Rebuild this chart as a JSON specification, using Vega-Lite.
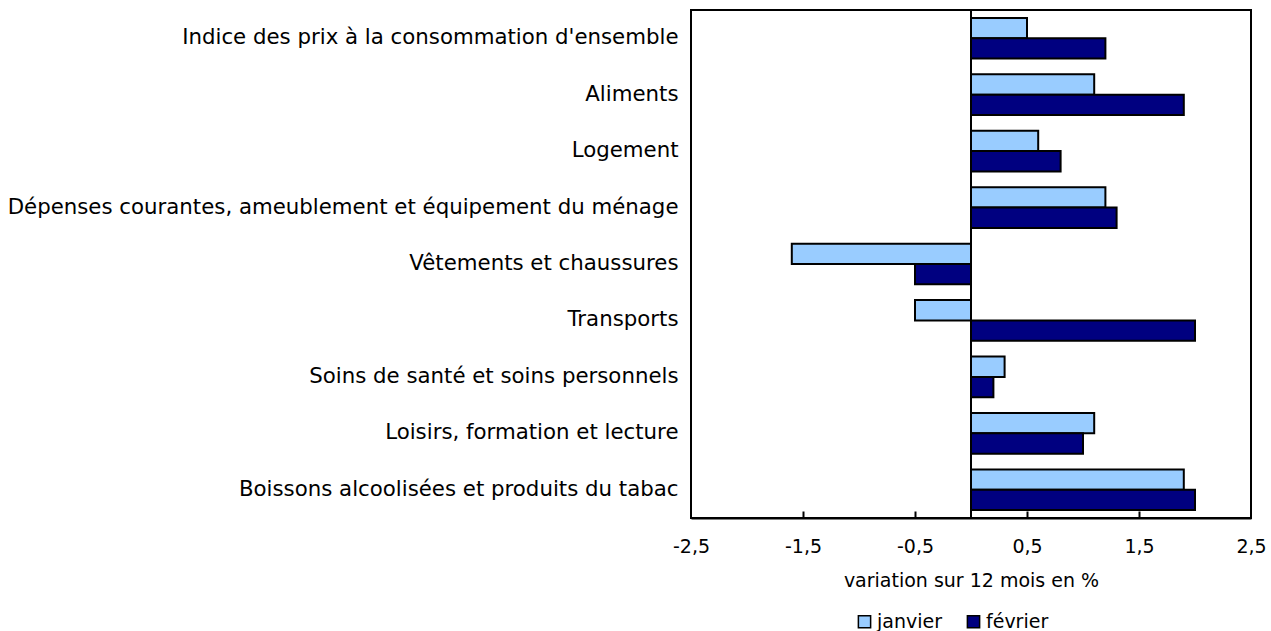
{
  "$schema": "https://vega.github.io/schema/vega-lite/v6.json",
  "autosize": {"type": "none"},
  "padding": {"left": 691, "top": 10, "right": 20, "bottom": 113},
  "width": 560,
  "height": 508,
  "config": {
    "font": "DejaVu Sans",
    "view": {"stroke": "black", "strokeWidth": 2},
    "axis": {"grid": false, "labelColor": "black", "titleColor": "black", "labelFontWeight": "normal", "titleFontWeight": "normal"}
  },
  "resolve": {"axis": {"x": "independent"}},
  "data": {
    "values": [
      {"cat": "Indice des prix à la consommation d'ensemble", "mois": "janvier", "v": 0.5},
      {"cat": "Indice des prix à la consommation d'ensemble", "mois": "février", "v": 1.2},
      {"cat": "Aliments", "mois": "janvier", "v": 1.1},
      {"cat": "Aliments", "mois": "février", "v": 1.9},
      {"cat": "Logement", "mois": "janvier", "v": 0.6},
      {"cat": "Logement", "mois": "février", "v": 0.8},
      {"cat": "Dépenses courantes, ameublement et équipement du ménage", "mois": "janvier", "v": 1.2},
      {"cat": "Dépenses courantes, ameublement et équipement du ménage", "mois": "février", "v": 1.3},
      {"cat": "Vêtements et chaussures", "mois": "janvier", "v": -1.6},
      {"cat": "Vêtements et chaussures", "mois": "février", "v": -0.5},
      {"cat": "Transports", "mois": "janvier", "v": -0.5},
      {"cat": "Transports", "mois": "février", "v": 2.0},
      {"cat": "Soins de santé et soins personnels", "mois": "janvier", "v": 0.3},
      {"cat": "Soins de santé et soins personnels", "mois": "février", "v": 0.2},
      {"cat": "Loisirs, formation et lecture", "mois": "janvier", "v": 1.1},
      {"cat": "Loisirs, formation et lecture", "mois": "février", "v": 1.0},
      {"cat": "Boissons alcoolisées et produits du tabac", "mois": "janvier", "v": 1.9},
      {"cat": "Boissons alcoolisées et produits du tabac", "mois": "février", "v": 2.0}
    ]
  },
  "layer": [
    {
      "mark": {"type": "bar", "stroke": "black", "strokeWidth": 2},
      "encoding": {
        "y": {
          "field": "cat", "type": "nominal", "sort": null,
          "scale": {"paddingInner": 0.28, "paddingOuter": 0.14},
          "axis": {"title": null, "domain": false, "ticks": false, "labelFontSize": 21.3, "labelPadding": 13, "labelLimit": 700}
        },
        "yOffset": {"field": "mois", "type": "nominal", "sort": ["janvier", "février"], "scale": {"paddingInner": 0}},
        "x": {
          "field": "v", "type": "quantitative",
          "scale": {"domain": [-2.5, 2.5], "nice": false, "zero": false},
          "axis": {
            "title": "variation sur 12 mois en %", "titleFontSize": 19, "titlePadding": 15,
            "values": [-2.5, -1.5, -0.5, 0.5, 1.5, 2.5],
            "labelExpr": "replace(toString(datum.value), '.', ',')",
            "labelFontSize": 19, "labelPadding": 19, "labelFlush": false,
            "ticks": false, "tickSize": 0,
            "domain": true, "domainColor": "black", "domainWidth": 2
          }
        },
        "color": {
          "field": "mois", "type": "nominal",
          "scale": {"domain": ["janvier", "février"], "range": ["#99CCFF", "#000080"]},
          "legend": {
            "title": null, "orient": "none", "legendX": 164, "legendY": 602,
            "direction": "horizontal", "symbolType": "square", "symbolSize": 150,
            "symbolStrokeColor": "black", "symbolStrokeWidth": 1.5,
            "labelFontSize": 19, "labelColor": "black", "columnPadding": 22, "labelOffset": 3
          }
        }
      }
    },
    {
      "data": {"values": [{"z": 0}]},
      "mark": {"type": "rule", "color": "black", "strokeWidth": 2},
      "encoding": {
        "x": {
          "field": "z", "type": "quantitative",
          "axis": {
            "orient": "bottom", "offset": -7, "labels": false, "domain": false, "title": null, "zindex": 1,
            "values": [-1.5, -0.5, 0.5, 1.5], "tickSize": 7, "tickWidth": 2, "tickColor": "black"
          }
        }
      }
    }
  ]
}
